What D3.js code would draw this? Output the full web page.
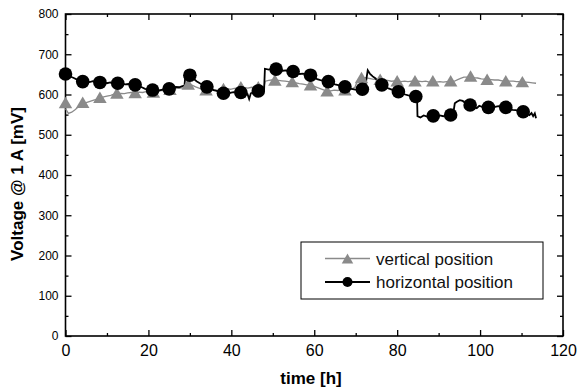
<!DOCTYPE html>
<html>
<head>
<meta charset="utf-8">
<script src="https://cdn.jsdelivr.net/npm/d3@7"></script>
<style>
  body { margin: 0; background: #fff; }
  svg { display: block; font-family: "Liberation Sans", Arial, sans-serif; }
</style>
</head>
<body>
<div id="chart"></div>
<script>
// axis ticks
var xTicks = [0, 20, 40, 60, 80, 100, 120];
var xMinor = [10, 30, 50, 70, 90, 110];
var yTicks = [0, 100, 200, 300, 400, 500, 600, 700, 800];
var yMinor = [50, 150, 250, 350, 450, 550, 650, 750];

var seriesNames = ["vertical position", "horizontal position"];

// markers [time h, voltage mV]
var vertMarkers = [[0,580],[4.15,581],[8.3,593],[12.4,604],[16.8,605],[21.2,606],[25.2,613],[29.6,626],[33.9,612],[38.1,615],[42.3,619],[46.5,619],[50.5,636],[54.7,632],[59.1,624],[63.1,609],[67.4,612],[71.4,642],[75.9,638],[80.0,634],[84.3,634],[88.6,634],[92.9,634],[97.7,646],[101.7,638],[106.2,634],[110.2,632]];
var horMarkers = [[0,651],[4.15,632],[8.3,630],[12.6,628],[16.8,624],[21.0,611],[25.0,614],[30.0,648],[34.1,619],[38.1,603],[42.3,605],[46.5,609],[50.8,663],[54.9,657],[59.1,648],[63.4,632],[67.4,619],[71.6,613],[76.3,624],[80.3,607],[84.5,595],[88.7,547],[92.9,549],[97.6,574],[102.0,568],[106.2,568],[110.4,557]];

// full recorded traces [time h, voltage mV]
var vertLine = [[0,565],[0.7,553],[1.5,556],[2.3,562],[3.2,570],[4.15,576],[5,580],[5.9,583],[6.8,586],[7.5,588],[8.3,590],[9.2,594],[10,596],[10.9,598],[11.7,601],[12.4,602],[13.3,603],[14.2,602],[15,604],[15.9,605],[16.8,605],[17.7,606],[18.6,605],[19.4,607],[20.3,606],[21.2,607],[22.1,608],[23,610],[23.8,609],[24.6,611],[25.2,612],[26.1,614],[27,615],[27.8,616],[28.6,617],[29.1,624],[29.6,625],[30.5,623],[31.4,619],[32.2,616],[33,613],[33.9,612],[34.8,611],[35.7,612],[36.5,610],[37.3,612],[38.1,613],[39,614],[39.8,613],[40.7,615],[41.5,616],[42.3,617],[43.2,617],[44,616],[44.9,618],[45.7,617],[46.5,618],[47.3,619],[47.9,620],[48.2,633],[49,635],[49.8,636],[50.5,636],[51.4,635],[52.2,634],[53,633],[53.8,632],[54.7,631],[55.6,629],[56.4,627],[57.3,626],[58.2,624],[59.1,622],[60,620],[60.8,617],[61.6,614],[62.4,611],[63.1,610],[64,609],[64.8,611],[65.7,610],[66.5,612],[67.4,612],[68.3,613],[69.1,614],[69.8,618],[70.4,633],[71,639],[71.4,641],[72.3,642],[73.2,640],[74.1,638],[75,637],[75.9,636],[76.8,635],[77.7,635],[78.6,633],[79.4,634],[80,633],[80.9,632],[81.8,633],[82.6,632],[83.5,633],[84.3,632],[85.1,633],[86,632],[86.9,633],[87.7,631],[88.6,632],[89.4,631],[90.3,632],[91.1,631],[92,632],[92.9,632],[93.8,633],[94.6,637],[95.3,640],[96.1,643],[96.9,643],[97.7,644],[98.5,642],[99.4,641],[100.3,639],[101,638],[101.7,638],[102.6,637],[103.5,636],[104.4,636],[105.3,634],[106.2,634],[107.1,633],[108,633],[108.8,632],[109.6,632],[110.2,632],[111,631],[111.8,630],[112.6,629],[113.5,628]];
var horLine = [[0,651],[0.6,648],[1.3,644],[2,641],[2.8,637],[3.5,635],[4.15,632],[5,634],[5.8,631],[6.6,633],[7.5,631],[8.3,630],[9.2,631],[10,628],[10.8,630],[11.7,627],[12.6,628],[13.5,627],[14.4,625],[15.2,626],[16,624],[16.8,624],[17.6,621],[18.4,618],[19.2,614],[20.1,612],[21,611],[21.8,613],[22.6,610],[23.4,612],[24.2,613],[25,614],[25.8,616],[26.6,619],[27.4,618],[28.2,621],[28.7,622],[28.9,646],[29.5,649],[30,648],[30.8,640],[31.6,633],[32.4,628],[33.2,624],[34.1,619],[34.9,616],[35.7,611],[36.5,609],[37.3,605],[38.1,603],[38.9,600],[39.7,604],[40.5,606],[41.4,604],[42.3,605],[43.1,603],[43.9,601],[44.3,589],[44.7,603],[45.6,607],[46.5,609],[47.3,610],[47.9,611],[48.1,664],[49,662],[50,664],[50.8,663],[51.6,661],[52.4,659],[53.2,660],[54,657],[54.9,657],[55.7,654],[56.5,651],[57.3,652],[58.2,649],[59.1,648],[59.9,643],[60.7,638],[61.5,636],[62.5,634],[63.4,632],[64.2,628],[65,625],[65.8,623],[66.6,621],[67.4,619],[68.2,616],[69,614],[69.9,612],[70.8,611],[71.6,613],[72.3,616],[72.6,640],[72.9,660],[73.4,652],[74.1,645],[74.8,640],[75.5,630],[76.3,624],[77.1,619],[77.9,615],[78.7,612],[79.5,609],[80.3,607],[81.1,602],[81.9,600],[82.7,598],[83.6,596],[84.5,595],[84.8,593],[84.9,546],[85.6,543],[86.4,548],[87.2,545],[88,547],[88.7,547],[89.5,544],[90.3,548],[91.1,546],[92,549],[92.9,549],[93.5,551],[93.9,578],[94.4,582],[95.1,586],[95.8,584],[96.6,578],[97.6,574],[98.4,570],[99.2,566],[99.8,572],[100.6,569],[101.3,571],[102,568],[102.8,566],[103.6,569],[104.4,571],[105.3,569],[106.2,568],[107,565],[107.8,562],[108.6,561],[109.5,559],[110.4,557],[111.2,553],[111.9,549],[112.4,554],[112.8,546],[113.2,553],[113.5,541]];

var W = 578, H = 390;
var pLeft = 65.5, pRight = 563, pTop = 14, pBottom = 336;
var grey = "#8a8a8a";

var svg = d3.select("#chart").append("svg")
    .attr("width", W)
    .attr("height", H);

var x = d3.scaleLinear().domain([0, 120]).range([pLeft, pRight]);
var y = d3.scaleLinear().domain([0, 800]).range([pBottom, pTop]);

// ---- axes, ticks inward on all four sides
function noLabel() { return ""; }

svg.append("g").attr("transform", "translate(0," + pBottom + ")")
    .call(d3.axisBottom(x).tickValues(xTicks).tickSize(-6).tickPadding(9).tickFormat(d3.format("d")))
    .call(function (g) { g.selectAll("text").attr("font-size", 16).attr("fill", "#000").attr("font-family", null); });
svg.append("g").attr("transform", "translate(0," + pBottom + ")")
    .call(d3.axisBottom(x).tickValues(xMinor).tickSize(-3).tickFormat(noLabel));
svg.append("g").attr("transform", "translate(0," + pTop + ")")
    .call(d3.axisTop(x).tickValues(xTicks).tickSize(-6).tickFormat(noLabel));
svg.append("g").attr("transform", "translate(0," + pTop + ")")
    .call(d3.axisTop(x).tickValues(xMinor).tickSize(-3).tickFormat(noLabel));

svg.append("g").attr("transform", "translate(" + pLeft + ",0)")
    .call(d3.axisLeft(y).tickValues(yTicks).tickSize(-6).tickPadding(7).tickFormat(d3.format("d")))
    .call(function (g) { g.selectAll("text").attr("font-size", 12).attr("fill", "#000").attr("font-family", null); });
svg.append("g").attr("transform", "translate(" + pLeft + ",0)")
    .call(d3.axisLeft(y).tickValues(yMinor).tickSize(-3).tickFormat(noLabel));
svg.append("g").attr("transform", "translate(" + pRight + ",0)")
    .call(d3.axisRight(y).tickValues(yTicks).tickSize(-6).tickFormat(noLabel));
svg.append("g").attr("transform", "translate(" + pRight + ",0)")
    .call(d3.axisRight(y).tickValues(yMinor).tickSize(-3).tickFormat(noLabel));

svg.selectAll(".domain").remove();
svg.selectAll(".tick line").attr("stroke", "#000").attr("stroke-width", 1.3);

svg.append("rect")
    .attr("x", pLeft).attr("y", pTop)
    .attr("width", pRight - pLeft).attr("height", pBottom - pTop)
    .style("fill", "none").style("stroke", "#000").style("stroke-width", 1.6);

// axis titles
svg.append("text")
    .attr("x", 311).attr("y", 384)
    .attr("text-anchor", "middle")
    .attr("font-size", 17).attr("font-weight", "bold")
    .text("time [h]");
svg.append("text")
    .attr("transform", "translate(23,184) rotate(-90)")
    .attr("text-anchor", "middle")
    .attr("font-size", 17).attr("font-weight", "bold")
    .text("Voltage @ 1 A [mV]");

// ---- traces
var line = d3.line().x(function (d) { return x(d[0]); }).y(function (d) { return y(d[1]); });

svg.append("path").datum(vertLine).attr("d", line)
    .style("fill", "none").style("stroke", grey).style("stroke-width", 1.3);
svg.append("path").datum(horLine).attr("d", line)
    .style("fill", "none").style("stroke", "#000").style("stroke-width", 1.8);

function tri(s) {
    // triangle with its box centred on the point
    var h = s * 0.85;
    return "M0," + (-h / 2) + "L" + (s / 2) + "," + (h / 2) + "L" + (-s / 2) + "," + (h / 2) + "Z";
}

svg.selectAll("path.tri").data(vertMarkers).enter()
    .append("path").attr("class", "tri")
    .attr("d", tri(13.5))
    .attr("transform", function (d) { return "translate(" + x(d[0]) + "," + y(d[1]) + ")"; })
    .style("fill", grey);
svg.selectAll("circle.dot").data(horMarkers).enter()
    .append("circle").attr("class", "dot")
    .attr("cx", function (d) { return x(d[0]); })
    .attr("cy", function (d) { return y(d[1]); })
    .attr("r", 6.8)
    .style("fill", "#000");

// ---- legend
var lg = svg.append("g").attr("transform", "translate(301,242)");
lg.append("rect").attr("width", 242).attr("height", 57)
    .style("fill", "#fff").style("stroke", "#000").style("stroke-width", 1);

var rows = lg.selectAll("g.row").data(seriesNames).enter()
    .append("g").attr("class", "row")
    .attr("transform", function (d, i) { return "translate(0," + (16.5 + i * 23.5) + ")"; });
rows.append("line").attr("x1", 24).attr("x2", 69)
    .style("stroke", function (d, i) { return i == 0 ? grey : "#000"; })
    .style("stroke-width", function (d, i) { return i == 0 ? 1.3 : 1.8; });
rows.filter(function (d, i) { return i == 0; }).append("path")
    .attr("d", tri(11.5)).attr("transform", "translate(46.5,0)").style("fill", grey);
rows.filter(function (d, i) { return i == 1; }).append("circle")
    .attr("cx", 46.5).attr("r", 5).style("fill", "#000");
rows.append("text").attr("x", 75).attr("y", 6)
    .attr("font-size", 17)
    .attr("fill", "#111")
    .text(function (d) { return d; });
</script>
</body>
</html>
